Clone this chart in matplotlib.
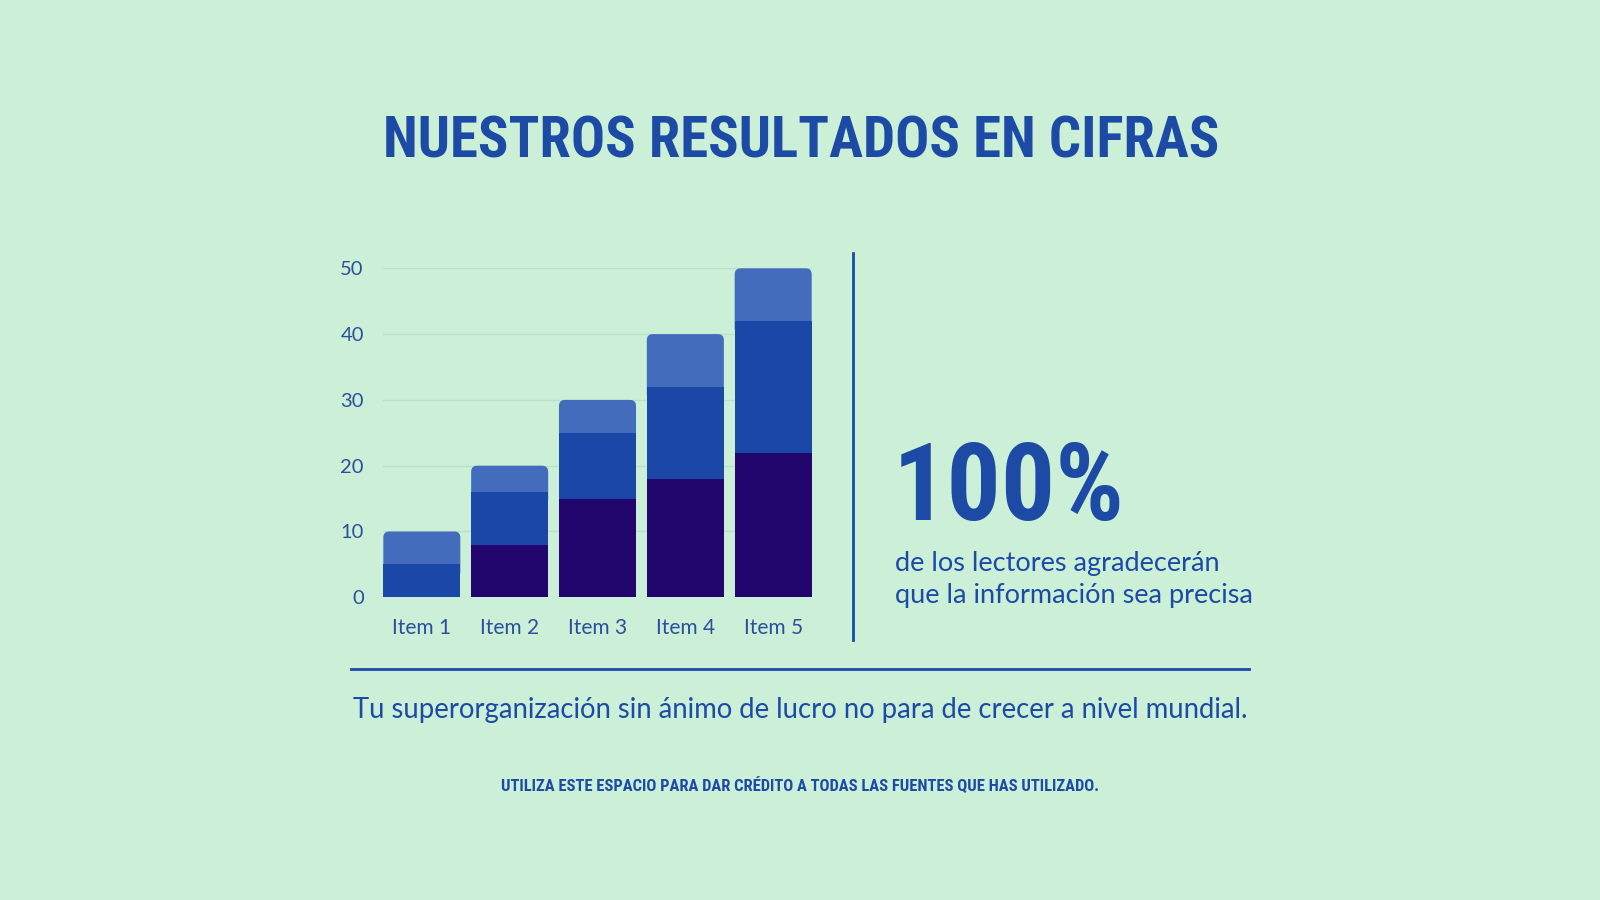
import matplotlib
matplotlib.use('Agg')
import matplotlib.pyplot as plt
from matplotlib import font_manager
from matplotlib.patches import FancyBboxPatch

# Chart data
items   = ['Item 1', 'Item 2', 'Item 3', 'Item 4', 'Item 5']
serie_a = [0, 8, 15, 18, 22]      # dark bottom
serie_b = [5, 8, 10, 14, 20]      # middle blue
serie_c = [5, 4, 5, 8, 8]         # light top
yticks  = [0, 10, 20, 30, 40, 50]

title    = 'NUESTROS RESULTADOS EN CIFRAS'
big_num  = '100%'
caption  = 'de los lectores agradecerán\nque la información sea precisa'
subtitle = 'Tu superorganización sin ánimo de lucro no para de crecer a nivel mundial.'
credit   = 'UTILIZA ESTE ESPACIO PARA DAR CRÉDITO A TODAS LAS FUENTES QUE HAS UTILIZADO.'

BG     = '#cbf0d7'
DARK   = '#22066e'
MID    = '#1b48a8'
LIGHT  = '#436dbc'
TXT    = '#1d4aa5'

W, H = 1600, 900

# pick fonts that exist
names = {f.name for f in font_manager.fontManager.ttflist}
def pick(*cands):
    for c in cands:
        if c in names:
            return c
    return 'DejaVu Sans'

NARROW = pick('Liberation Sans Narrow', 'Roboto Condensed', 'DejaVu Sans')
BODY   = pick('Lato', 'Open Sans', 'Noto Sans', 'DejaVu Sans')

fig = plt.figure(figsize=(16, 9), dpi=100, facecolor=BG)

# bar chart axes
ax_w, ax_h = 428.4, 329.0
ax = fig.add_axes([383.3 / W, 1 - 597.3 / H, ax_w / W, ax_h / H])
ax.set_facecolor(BG)
x = list(range(len(items)))
bw = 0.877
ax.set_xlim(-bw / 2, len(items) - 1 + bw / 2)
ax.set_ylim(0, 50)

bottom_b = serie_a
bottom_c = [a + b for a, b in zip(serie_a, serie_b)]
ax.bar(x, serie_a, width=bw, color=DARK, zorder=3)
ax.bar(x, serie_b, width=bw, bottom=bottom_b, color=MID, zorder=3)
# top segment gets rounded corners; it reaches a bit down behind the middle one
tops = ax.bar(x, [c + 2 for c in serie_c], width=bw,
              bottom=[b - 2 for b in bottom_c], color=LIGHT, zorder=2)
xr = (len(items) - 1 + bw) / ax_w      # data x per pixel
yr = 50 / ax_h                         # data y per pixel
for p in tops.patches:
    fb = FancyBboxPatch((p.get_x(), p.get_y()), p.get_width(), p.get_height(),
                        boxstyle='round,pad=0,rounding_size=%f' % (6 * xr),
                        mutation_aspect=yr / xr, facecolor=LIGHT,
                        edgecolor='none', zorder=2, clip_on=False)
    ax.add_patch(fb)
    p.remove()

ax.set_yticks(yticks)
ax.set_xticks(x)
ax.set_xticklabels(items)
ax.grid(axis='y', color='#b8e2c8', linewidth=1, zorder=0)
ax.set_axisbelow(True)
for s in ax.spines.values():
    s.set_visible(False)
ax.tick_params(axis='y', length=0, pad=14, labelsize=14.5, labelcolor='#2b4f9c')
ax.tick_params(axis='x', length=0, pad=15, labelsize=15, labelcolor='#2b4f9c')
for lab in ax.get_xticklabels() + ax.get_yticklabels():
    lab.set_family(BODY)

# divider lines
fig.add_artist(plt.Line2D([853 / W, 853 / W], [1 - 253 / H, 1 - 640 / H], color=MID, lw=2))
fig.add_artist(plt.Line2D([351 / W, 1249 / W], [1 - 669 / H, 1 - 669 / H], color=MID, lw=2))

renderer = fig.canvas.get_renderer()

def fit(t, target_px):
    # scale the font so the text gets the wanted width
    for _ in range(3):
        w = t.get_window_extent(renderer).width
        t.set_fontsize(t.get_fontsize() * target_px / w)

t1 = fig.text(801 / W, 1 - 142 / H, title, ha='center', va='center',
              family=NARROW, weight='bold', color=TXT, fontsize=40)
fit(t1, 835)

t2 = fig.text(893 / W, 1 - 520 / H, big_num, ha='left', va='baseline',
              family=NARROW, weight='bold', color=TXT, fontsize=80)
fit(t2, 232)

t3 = fig.text(895 / W, 1 - 603 / H, caption, ha='left', va='baseline',
              family=BODY, color=TXT, fontsize=17, linespacing=1.35)
fit(t3, 357)

t4 = fig.text(800 / W, 1 - 710 / H, subtitle, ha='center', va='center',
              family=BODY, color=TXT, fontsize=18)
fit(t4, 898)

t5 = fig.text(800 / W, 1 - 786 / H, credit, ha='center', va='center',
              family=NARROW, weight='bold', color=TXT, fontsize=10)
fit(t5, 599)

fig.savefig('out.png', dpi=100, facecolor=BG)
